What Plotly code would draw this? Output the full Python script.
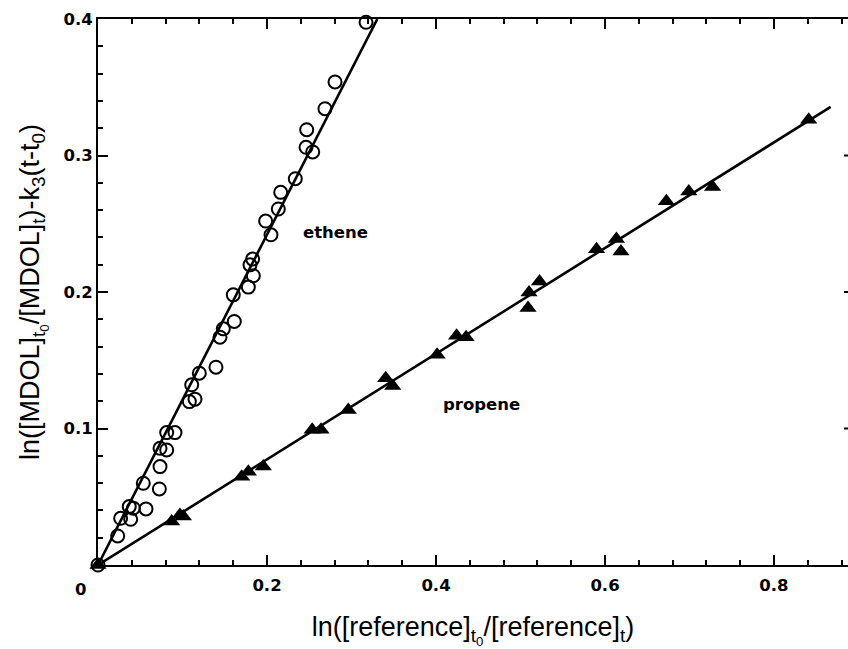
import plotly.graph_objects as go

# Ethene (open circles)
ethene_x = [0.0, 0.0233, 0.0268, 0.0387, 0.0370, 0.0418, 0.0568, 0.0536, 0.0726,
            0.0734, 0.0734, 0.0813, 0.0813, 0.0911, 0.1081, 0.1148, 0.1109, 0.1199,
            0.1396, 0.1444, 0.1483, 0.1613, 0.1601, 0.1779, 0.1838, 0.1799, 0.1830,
            0.2047, 0.1984, 0.2134, 0.2162, 0.2335, 0.2541, 0.2462, 0.2470, 0.2686,
            0.2805, 0.3172]
ethene_y = [0.0, 0.0213, 0.0342, 0.0335, 0.0428, 0.0416, 0.0411, 0.0599, 0.0557,
            0.0721, 0.0855, 0.0843, 0.0970, 0.0970, 0.1197, 0.1215, 0.1320, 0.1405,
            0.1449, 0.1669, 0.1730, 0.1784, 0.1979, 0.2036, 0.2119, 0.2199, 0.2241,
            0.2419, 0.2520, 0.2608, 0.2730, 0.2830, 0.3026, 0.3060, 0.3189, 0.3343,
            0.3539, 0.3976]

# Propene (filled triangles)
propene_x = [0.0, 0.0872, 0.0970, 0.1010, 0.1700, 0.1779, 0.1956, 0.2535, 0.2639,
             0.2962, 0.3405, 0.3488, 0.4013, 0.4244, 0.4356, 0.5089, 0.5101, 0.5225,
             0.5900, 0.6135, 0.6189, 0.6727, 0.6992, 0.7273, 0.8411]
propene_y = [0.0, 0.0318, 0.0367, 0.0355, 0.0647, 0.0684, 0.0721, 0.0990, 0.0990,
             0.1136, 0.1369, 0.1312, 0.1540, 0.1679, 0.1669, 0.1882, 0.1996, 0.2077,
             0.2314, 0.2388, 0.2297, 0.2664, 0.2737, 0.2769, 0.3262]

# Linear fits through the origin
ethene_slope = 1.21
propene_slope = 0.387
ethene_fit_x = [0.0, 0.3306]
propene_fit_x = [0.0, 0.8671]

x_range = [0.0, 0.8876]
y_range = [0.0, 0.4]
right_stub_y = [0.1, 0.2, 0.3]

tick_font = dict(family="DejaVu Sans", size=16.5, color="black", weight="bold")
title_font = dict(family="Liberation Sans, Arial, sans-serif", size=27, color="black")

W, H = 848, 649
M = dict(l=98, r=0, t=19, b=84)
plot_w = W - M["l"] - M["r"]
plot_h = H - M["t"] - M["b"]

fig = go.Figure()

fig.add_trace(go.Scatter(
    x=ethene_fit_x, y=[ethene_slope * v for v in ethene_fit_x],
    mode="lines", line=dict(color="black", width=2.6), showlegend=False,
))
fig.add_trace(go.Scatter(
    x=propene_fit_x, y=[propene_slope * v for v in propene_fit_x],
    mode="lines", line=dict(color="black", width=2.6), showlegend=False,
))
fig.add_trace(go.Scatter(
    x=ethene_x, y=ethene_y, mode="markers", name="ethene",
    marker=dict(symbol="circle-open", size=13, color="black", line=dict(width=2)),
    showlegend=False, cliponaxis=False,
))
fig.add_trace(go.Scatter(
    x=propene_x, y=propene_y, mode="markers", name="propene",
    marker=dict(symbol="triangle-up", size=15, color="black"),
    showlegend=False, cliponaxis=False,
))

fig.add_annotation(x=0.2805, y=0.2438, text="<b>ethene</b>", showarrow=False,
                   font=dict(family="DejaVu Sans", size=16.5, color="black"))
fig.add_annotation(x=0.4544, y=0.1173, text="<b>propene</b>", showarrow=False,
                   font=dict(family="DejaVu Sans", size=16.5, color="black"))
# shared origin label below the corner
fig.add_annotation(xref="paper", yref="paper", x=-18 / plot_w, y=-24 / plot_h,
                   xanchor="center", yanchor="middle",
                   text="0", showarrow=False, font=tick_font)

# right-hand frame: only short tick stubs at the major y values
for yv in right_stub_y:
    fig.add_shape(type="line", xref="paper", yref="y", x0=1 - 4 / plot_w, x1=1,
                  y0=yv, y1=yv, line=dict(color="black", width=2), layer="above")

fig.update_xaxes(
    range=x_range, tickmode="linear", tick0=0, dtick=0.2,
    labelalias={"0": " "},
    ticks="inside", ticklen=10, tickwidth=2, tickcolor="black",
    minor=dict(tickmode="linear", tick0=0, dtick=0.04, ticks="inside",
               ticklen=5, tickwidth=2, tickcolor="black"),
    showline=True, linewidth=2, linecolor="black", mirror="allticks",
    showgrid=False, zeroline=False, tickfont=tick_font, ticklabelstandoff=4,
    title=dict(text="ln([reference]<sub>t<sub>0</sub></sub>/[reference]<sub>t</sub>)",
               font=title_font, standoff=24),
    automargin=False,
)
fig.update_yaxes(
    range=y_range, tickmode="linear", tick0=0, dtick=0.1,
    labelalias={"0": " "},
    ticks="inside", ticklen=10, tickwidth=2, tickcolor="black",
    minor=dict(tickmode="linear", tick0=0, dtick=0.02, ticks="inside",
               ticklen=5, tickwidth=2, tickcolor="black"),
    showline=True, linewidth=2, linecolor="black", mirror=False,
    showgrid=False, zeroline=False, tickfont=tick_font,
    title=dict(text="ln([MDOL]<sub>t<sub>0</sub></sub>/[MDOL]<sub>t</sub>)-k<sub>3</sub>(t-t<sub>0</sub>)",
               font=title_font, standoff=16),
    automargin=False,
)

fig.update_layout(
    width=W, height=H,
    margin=M,
    paper_bgcolor="white", plot_bgcolor="white",
)

fig.write_html("out.html")
